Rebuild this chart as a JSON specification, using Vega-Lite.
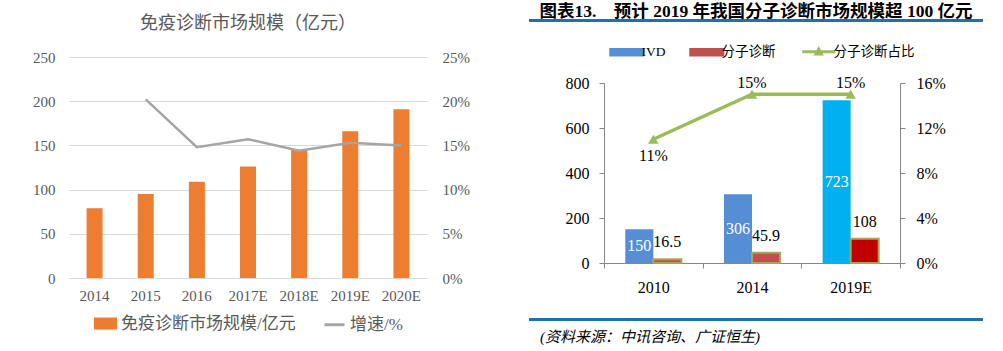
{
  "$schema": "https://vega.github.io/schema/vega-lite/v6.json",
  "background": "white",
  "padding": {"left": 32, "top": 2, "right": 0, "bottom": 0},
  "spacing": 58,
  "columns": 2,
  "align": "none",
  "config": {
    "view": {"stroke": null},
    "font": "Liberation Serif, Noto Sans CJK SC",
    "axis": {"labelOverlap": false},
    "legend": {"layout": {"bottom": {"anchor": "middle"}, "top": {"anchor": "start"}}}
  },
  "resolve": {"scale": {"color": "independent"}, "legend": {"color": "independent"}},
  "datasets": {
    "imm": [
      {"year": "2014", "size": 79, "growth": null},
      {"year": "2015", "size": 95, "growth": 0.202},
      {"year": "2016", "size": 109, "growth": 0.148},
      {"year": "2017E", "size": 126, "growth": 0.157},
      {"year": "2018E", "size": 145, "growth": 0.144},
      {"year": "2019E", "size": 166, "growth": 0.153},
      {"year": "2020E", "size": 191, "growth": 0.150}
    ],
    "mol": [
      {"year": "2010", "series": "IVD", "value": 150},
      {"year": "2010", "series": "分子诊断", "value": 16.5},
      {"year": "2014", "series": "IVD", "value": 306},
      {"year": "2014", "series": "分子诊断", "value": 45.9},
      {"year": "2019E", "series": "IVD", "value": 723},
      {"year": "2019E", "series": "分子诊断", "value": 108}
    ],
    "share": [
      {"year": "2010", "share": 0.11},
      {"year": "2014", "share": 0.15},
      {"year": "2019E", "share": 0.15}
    ],
    "blank": [{}]
  },
  "concat": [
    {
      "columns": 1,
      "align": "none",
      "spacing": -11,
      "resolve": {"scale": {"color": "independent"}, "legend": {"color": "independent"}},
      "concat": [
        {
          "width": 358, "height": 1,
          "data": {"name": "blank"},
          "mark": {"type": "text"},
          "encoding": {"text": {"value": ""}}
        },
        {
          "width": 358,
          "height": 221,
          "data": {"name": "imm"},
          "title": {
            "text": "免疫诊断市场规模（亿元）",
            "font": "Liberation Serif, Noto Sans CJK SC",
            "fontSize": 18, "fontWeight": "normal",
            "color": "#595959",
            "anchor": "middle",
            "offset": 17
          },
          "encoding": {
            "x": {
              "field": "year", "type": "nominal", "sort": null,
              "scale": {"paddingInner": 0, "paddingOuter": 0},
              "axis": {"title": null, "domain": false, "ticks": false, "labelAngle": 0, "labelPadding": 10,
                       "labelFont": "Liberation Serif", "labelFontSize": 15, "labelColor": "#595959"}
            }
          },
          "layer": [
            {
              "mark": {"type": "bar", "width": 16, "color": "#ED7D31"},
              "encoding": {
                "y": {
                  "field": "size", "type": "quantitative",
                  "scale": {"domain": [0, 250]},
                  "axis": {"title": null, "values": [0, 50, 100, 150, 200, 250], "grid": true, "gridColor": "#D9D9D9",
                           "domain": false, "ticks": false, "labelPadding": 14, "labelOverlap": false,
                           "labelFont": "Liberation Serif", "labelFontSize": 15, "labelColor": "#595959"}
                },
                "color": {
                  "datum": "免疫诊断市场规模/亿元", "type": "nominal",
                  "scale": {"domain": ["免疫诊断市场规模/亿元", "增速/%"], "range": ["#ED7D31", "#A5A5A5"]},
                  "legend": {
                    "orient": "bottom", "direction": "horizontal", "title": null,
                    "labelFont": "Liberation Serif, Noto Sans CJK SC", "labelFontSize": 17, "labelColor": "#595959",
                    "labelLimit": 400,
                    "symbolSize": 400, "columnPadding": 22, "labelOffset": 4, "offset": 9,
                    "encode": {
                      "symbols": {
                        "update": {
                          "shape": {"signal": "datum.value === '增速/%' ? 'M-1,0H1' : 'M-1,-0.45H1V0.45H-1Z'"},
                          "fill": {"signal": "datum.value === '增速/%' ? 'transparent' : '#ED7D31'"},
                          "stroke": {"signal": "datum.value === '增速/%' ? '#A5A5A5' : 'transparent'"},
                          "strokeWidth": {"value": 3},
                          "opacity": {"value": 1}
                        }
                      }
                    }
                  }
                }
              }
            },
            {
              "mark": {"type": "line", "strokeWidth": 2.5},
              "encoding": {
                "y": {
                  "field": "growth", "type": "quantitative",
                  "scale": {"domain": [0, 0.25]},
                  "axis": {"title": null, "orient": "right", "values": [0, 0.05, 0.1, 0.15, 0.2, 0.25], "format": ".0%",
                           "grid": false, "domain": false, "ticks": false, "labelPadding": 15, "labelOverlap": false,
                           "labelFont": "Liberation Serif", "labelFontSize": 15, "labelColor": "#595959"}
                },
                "color": {"datum": "增速/%", "type": "nominal"}
              }
            }
          ],
          "resolve": {"scale": {"y": "independent"}}
        }
      ]
    },
    {
      "columns": 2,
      "align": "none",
      "spacing": {"row": 2, "column": 0},
      "resolve": {"scale": {"color": "independent"}, "legend": {"color": "independent"}},
      "concat": [
        {
          "width": 1, "height": 1,
          "data": {"name": "blank"},
          "mark": {"type": "text"},
          "encoding": {"text": {"value": ""}}
        },
        {
          "width": 452,
          "height": 1,
          "data": {"name": "blank"},
          "mark": {"type": "text"},
          "encoding": {"text": {"value": ""}},
          "view": {"stroke": "#1F6FB4", "strokeWidth": 2},
          "title": {
            "text": "图表13.　预计 2019 年我国分子诊断市场规模超 100 亿元",
            "font": "Liberation Serif, Noto Sans CJK SC",
            "fontSize": 17.5, "fontWeight": "bold", "color": "#000000",
            "anchor": "middle", "offset": -6
          }
        },
        {
          "width": 1, "height": 227,
          "data": {"name": "blank"},
          "mark": {"type": "text"},
          "encoding": {"text": {"value": ""}}
        },
        {
          "width": 296,
          "height": 180,
          "layer": [
            {
              "data": {"name": "mol"},
              "encoding": {
                "x": {
                  "field": "year", "type": "nominal", "sort": null,
                  "scale": {"paddingInner": 0, "paddingOuter": 0},
                  "axis": {"title": null, "labelAngle": 0, "domainColor": "#868686", "tickColor": "#868686",
                           "tickSize": 5, "tickBand": "extent", "labelPadding": 11,
                           "labelFont": "Liberation Serif", "labelFontSize": 16, "labelColor": "#000000"}
                },
                "xOffset": {"field": "series", "type": "nominal", "sort": ["IVD", "分子诊断"],
                            "scale": {"paddingInner": 0, "paddingOuter": 0.76}}
              },
              "layer": [
                {
                  "mark": {"type": "bar", "strokeWidth": 2},
                  "encoding": {
                    "y": {
                      "field": "value", "type": "quantitative",
                      "scale": {"domain": [0, 800]},
                      "axis": {"title": ".", "titleColor": "transparent", "titleFontSize": 10, "titlePadding": 26,
                               "values": [0, 100, 200, 300, 400, 500, 600, 700, 800], "grid": false,
                               "domainColor": "#868686", "tickColor": "#868686", "tickSize": 5, "labelPadding": 10,
                               "labelOverlap": false,
                               "labelFont": "Liberation Serif", "labelFontSize": 16, "labelColor": "#000000"}
                    },
                    "color": {
                      "field": "series", "type": "nominal",
                      "condition": [
                        {"test": "datum.year === '2019E' && datum.series === 'IVD'", "value": "#00B0F0"},
                        {"test": "datum.year === '2019E' && datum.series === '分子诊断'", "value": "#C00000"}
                      ],
                      "scale": {"domain": ["IVD", "分子诊断", "分子诊断占比"], "range": ["#558ED5", "#C0504D", "#9BBB59"]},
                      "legend": {
                        "orient": "top", "direction": "horizontal", "title": null, "padding": 16,
                        "labelFont": "Liberation Serif, Noto Sans CJK SC", "labelFontSize": 13.5, "labelColor": "#000000",
                        "symbolSize": 1089, "columnPadding": 20, "labelOffset": 8, "offset": 7,
                        "encode": {
                          "symbols": {
                            "update": {
                              "shape": {"signal": "datum.value === '分子诊断占比' ? 'M-1,0H1M-0.16,0.13L0,-0.16L0.16,0.13Z' : 'M-1,-0.2H1V0.2H-1Z'"},
                              "fill": {"signal": "datum.value === '分子诊断占比' ? '#9BBB59' : (datum.value === 'IVD' ? '#558ED5' : '#C0504D')"},
                              "stroke": {"signal": "datum.value === '分子诊断占比' ? '#9BBB59' : (datum.value === 'IVD' ? 'transparent' : '#A9A557')"},
                              "strokeWidth": {"signal": "datum.value === '分子诊断占比' ? 3 : 2"},
                              "opacity": {"value": 1}
                            }
                          }
                        }
                      }
                    },
                    "stroke": {"condition": {"test": "datum.series === '分子诊断'", "value": "#A9A557"}, "value": "transparent"}
                  }
                },
                {
                  "transform": [{"filter": "datum.series === 'IVD'"}, {"calculate": "datum.value / 2", "as": "mid"}],
                  "mark": {"type": "text", "color": "white", "font": "Liberation Serif", "fontSize": 16, "baseline": "middle"},
                  "encoding": {
                    "y": {"field": "mid", "type": "quantitative"},
                    "text": {"field": "value", "type": "quantitative"}
                  }
                },
                {
                  "transform": [{"filter": "datum.series === '分子诊断'"}],
                  "mark": {"type": "text", "color": "black", "font": "Liberation Serif", "fontSize": 16, "baseline": "middle", "dy": -17},
                  "encoding": {
                    "y": {"field": "value", "type": "quantitative"},
                    "text": {"field": "value", "type": "quantitative"}
                  }
                }
              ]
            },
            {
              "data": {"name": "share"},
              "encoding": {
                "x": {"field": "year", "type": "nominal", "sort": null}
              },
              "layer": [
                {
                  "mark": {"type": "line", "strokeWidth": 3.5, "color": "#9BBB59",
                           "point": {"shape": "triangle-up", "filled": true, "size": 110, "color": "#9BBB59"}},
                  "encoding": {
                    "y": {
                      "field": "share", "type": "quantitative",
                      "scale": {"domain": [0, 0.16]},
                      "axis": {"title": null, "orient": "right", "values": [0, 0.02, 0.04, 0.06, 0.08, 0.1, 0.12, 0.14, 0.16],
                               "format": ".0%", "grid": false, "domainColor": "#868686", "tickColor": "#868686",
                               "tickSize": 5, "labelPadding": 11, "labelOverlap": false,
                               "labelFont": "Liberation Serif", "labelFontSize": 16, "labelColor": "#000000"}
                    },
                    "color": {
                      "datum": "分子诊断占比", "type": "nominal",
                      "legend": {
                        "orient": "top", "direction": "horizontal", "title": null, "padding": 16,
                        "labelFont": "Liberation Serif, Noto Sans CJK SC", "labelFontSize": 13.5, "labelColor": "#000000",
                        "symbolSize": 1089, "columnPadding": 20, "labelOffset": 8, "offset": 7,
                        "encode": {
                          "symbols": {
                            "update": {
                              "shape": {"signal": "datum.value === '分子诊断占比' ? 'M-1,0H1M-0.16,0.13L0,-0.16L0.16,0.13Z' : 'M-1,-0.2H1V0.2H-1Z'"},
                              "fill": {"signal": "datum.value === '分子诊断占比' ? '#9BBB59' : (datum.value === 'IVD' ? '#558ED5' : '#C0504D')"},
                              "stroke": {"signal": "datum.value === '分子诊断占比' ? '#9BBB59' : (datum.value === 'IVD' ? 'transparent' : '#A9A557')"},
                              "strokeWidth": {"signal": "datum.value === '分子诊断占比' ? 3 : 2"},
                              "opacity": {"value": 1}
                            }
                          }
                        }
                      }
                    }
                  }
                },
                {
                  "transform": [{"filter": "datum.year === '2010'"}],
                  "mark": {"type": "text", "color": "black", "font": "Liberation Serif", "fontSize": 16, "baseline": "middle", "dy": 17},
                  "encoding": {
                    "y": {"field": "share", "type": "quantitative"},
                    "text": {"field": "share", "type": "quantitative", "format": ".0%"}
                  }
                },
                {
                  "transform": [{"filter": "datum.year !== '2010'"}],
                  "mark": {"type": "text", "color": "black", "font": "Liberation Serif", "fontSize": 16, "baseline": "middle", "dy": -11},
                  "encoding": {
                    "y": {"field": "share", "type": "quantitative"},
                    "text": {"field": "share", "type": "quantitative", "format": ".0%"}
                  }
                }
              ]
            }
          ],
          "resolve": {"scale": {"y": "independent"}}
        },
        {
          "width": 1, "height": 1,
          "data": {"name": "blank"},
          "mark": {"type": "text"},
          "encoding": {"text": {"value": ""}}
        },
        {
          "width": 452,
          "height": 1,
          "data": {"name": "blank"},
          "mark": {"type": "text"},
          "encoding": {"text": {"value": ""}},
          "view": {"stroke": "#1F6FB4", "strokeWidth": 2},
          "title": {
            "text": "(资料来源：中讯咨询、广证恒生)",
            "orient": "bottom", "anchor": "start", "dx": 10,
            "font": "Liberation Serif, Noto Sans CJK SC",
            "fontSize": 15, "fontStyle": "italic", "fontWeight": "normal", "color": "#000000",
            "offset": 5
          }
        }
      ]
    }
  ]
}
